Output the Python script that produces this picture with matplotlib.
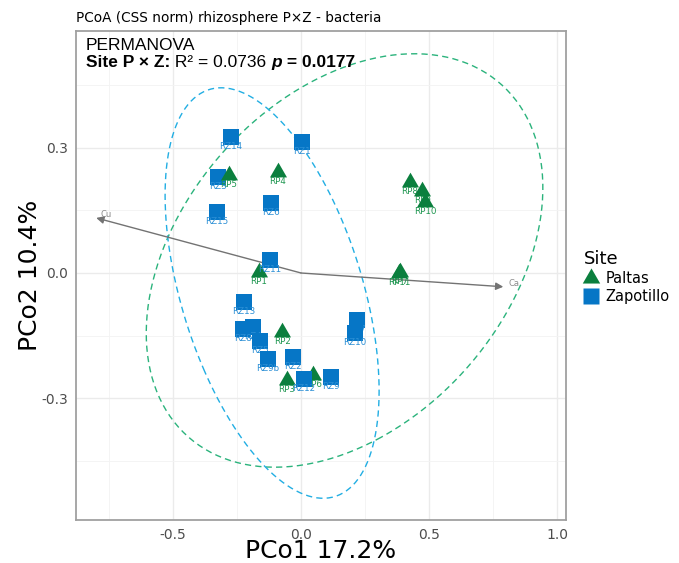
import numpy as np
import matplotlib
matplotlib.use("Agg")
import matplotlib.pyplot as plt
from matplotlib.lines import Line2D
from matplotlib.path import Path

# sample scores, in plotting order (interleaved by sample number)
samples = ["RP1", "RZ1", "RP2", "RZ2", "RP3", "RZ3", "RP4", "RZ4", "RP5", "RZ5",
           "RP6", "RZ6", "RP7", "RZ7", "RP8", "RZ8", "RP9", "RZ9", "RZ9b",
           "RP10", "RZ10", "RP11", "RZ11", "RZ12", "RZ13", "RZ14", "RZ15"]
pc1 = [-0.164, 0.004, -0.074, -0.031, -0.055, -0.324, -0.090, -0.188, -0.281, -0.160,
       0.047, -0.117, 0.387, 0.219, 0.426, -0.227, 0.473, 0.117, -0.129,
       0.484, 0.211, 0.383, -0.121, 0.012, -0.223, -0.273, -0.328]
pc2 = [0.002, 0.314, -0.141, -0.201, -0.257, 0.230, 0.242, -0.129, 0.235, -0.163,
       -0.245, 0.168, 0.002, -0.113, 0.218, -0.134, 0.197, -0.249, -0.206,
       0.170, -0.144, 0.000, 0.031, -0.254, -0.070, 0.326, 0.146]
site = ["Paltas" if s.startswith("RP") else "Zapotillo" for s in samples]

# env vectors
env_names = ["Cu", "Ca"]
env_x = [-0.80, 0.79]
env_y = [0.132, -0.033]

# 95% ellipses: centre and shape matrix
ell_center = {"Paltas": (0.17, 0.03), "Zapotillo": (-0.113, -0.048)}
ell_shape = {"Paltas": [[0.600, 0.135], [0.135, 0.2455]],
             "Zapotillo": [[0.1747, -0.098], [-0.098, 0.242]]}

pt_col = {"Paltas": "#0B7F3E", "Zapotillo": "#0676C6"}
lab_col = {"Paltas": "#1E9650", "Zapotillo": "#2B8FD5"}
ell_col = {"Paltas": "#2BB37C", "Zapotillo": "#22AEE3"}

tri = Path([(0, 0.577), (-0.5, -0.289), (0.5, -0.289), (0, 0.577)],
           [Path.MOVETO, Path.LINETO, Path.LINETO, Path.CLOSEPOLY])
mk = {"Paltas": tri, "Zapotillo": "s"}
mk_size = {"Paltas": 200, "Zapotillo": 118}

W, H = 679, 563
fig = plt.figure(figsize=(W / 100, H / 100), dpi=100)
ax = fig.add_axes([76 / W, 1 - 520 / H, 490 / W, 489 / H])
ax.set_xlim(-0.879, 1.035)
ax.set_ylim(-0.592, 0.580)

ax.set_xticks([-0.5, 0.0, 0.5, 1.0])
ax.set_xticks([-0.75, -0.25, 0.25, 0.75], minor=True)
ax.set_yticks([-0.3, 0.0, 0.3])
ax.set_yticks([-0.45, -0.15, 0.15, 0.45], minor=True)
ax.set_xticklabels(["-0.5", "0.0", "0.5", "1.0"])
ax.set_yticklabels(["-0.3", "0.0", "0.3"])
ax.grid(which="major", color="#EBEBEB", lw=1.0, zorder=0)
ax.grid(which="minor", color="#F3F3F3", lw=0.6, zorder=0)
ax.set_axisbelow(True)
ax.tick_params(which="both", length=0, labelsize=10, labelcolor="#4D4D4D")
ax.tick_params(axis="x", pad=6)
ax.tick_params(axis="y", pad=6)
for sp in ax.spines.values():
    sp.set_color("#A0A0A0")
    sp.set_linewidth(1.3)

# ellipses
tt = np.linspace(0, 2 * np.pi, 300)
for g in ["Paltas", "Zapotillo"]:
    vals, vecs = np.linalg.eigh(np.array(ell_shape[g]))
    pts = vecs @ np.diag(np.sqrt(vals)) @ np.vstack([np.cos(tt), np.sin(tt)])
    cx, cy = ell_center[g]
    ax.plot(cx + pts[0], cy + pts[1], color=ell_col[g], lw=1.0,
            linestyle=(0, (4.5, 3)), zorder=2)

# env arrows
for n, ex, ey in zip(env_names, env_x, env_y):
    ax.annotate("", xy=(ex, ey), xytext=(0, 0),
                arrowprops=dict(arrowstyle="-|>", color="#737373", lw=1.0,
                                mutation_scale=11, shrinkA=0, shrinkB=0), zorder=3)
    ax.annotate(n, (ex, ey), xytext=(4 if ex > 0 else 3, 2.5), textcoords="offset points",
                fontsize=6, color="#8C8C8C", ha="left", va="center", zorder=3)

# points and labels, each point then its label
z = 4
for s, x, y, g in zip(samples, pc1, pc2, site):
    ax.scatter(x, y, marker=mk[g], s=mk_size[g], color=pt_col[g], linewidths=0, zorder=z)
    ax.annotate(s, (x, y), xytext=(0, -7), textcoords="offset points", ha="center",
                va="center", fontsize=6.3, color=lab_col[g], zorder=z + 1)
    z += 2

# PERMANOVA text
lf = "Liberation Sans"
ax.text(0.020, 0.970, "PERMANOVA", transform=ax.transAxes, fontsize=12.5,
        family=lf, va="center", ha="left", zorder=100)
t1 = ax.text(0.020, 0.936, "Site P × Z:", transform=ax.transAxes, fontsize=12.5,
             family=lf, weight="bold", va="center", ha="left", zorder=100)
t2 = ax.annotate(" R² = 0.0736 ", xy=(1, 0), xycoords=t1, fontsize=12.5, family=lf,
                 va="bottom", ha="left", zorder=100)
t3 = ax.annotate("p", xy=(1, 0), xycoords=t2, fontsize=12.5, family=lf, weight="bold",
                 style="italic", va="bottom", ha="left", zorder=100)
ax.annotate(" = 0.0177", xy=(1, 0), xycoords=t3, fontsize=12.5, family=lf, weight="bold",
            va="bottom", ha="left", zorder=100)

fig.text(76 / W, 1 - 18 / H, "PCoA (CSS norm) rhizosphere P×Z - bacteria",
         fontsize=9.8, ha="left", va="center")
fig.text(321 / W, 1 - 551 / H, "PCo1 17.2%", fontsize=18, ha="center", va="center")
fig.text(30 / W, 1 - 275 / H, "PCo2 10.4%", fontsize=18, ha="center", va="center",
         rotation=90)

handles = [Line2D([0], [0], marker=tri, ls="", ms=14.5, mfc=pt_col["Paltas"], mec="none",
                  label="Paltas"),
           Line2D([0], [0], marker="s", ls="", ms=11, mfc=pt_col["Zapotillo"], mec="none",
                  label="Zapotillo")]
fig.legend(handles=handles, title="Site", loc="upper left",
           bbox_to_anchor=(578 / W, 1 - 244 / H), frameon=False, fontsize=10.5,
           title_fontsize=13, alignment="left", handlelength=1.0, handletextpad=0.5,
           labelspacing=0.22, borderaxespad=0)

fig.savefig("out.png", dpi=100)
